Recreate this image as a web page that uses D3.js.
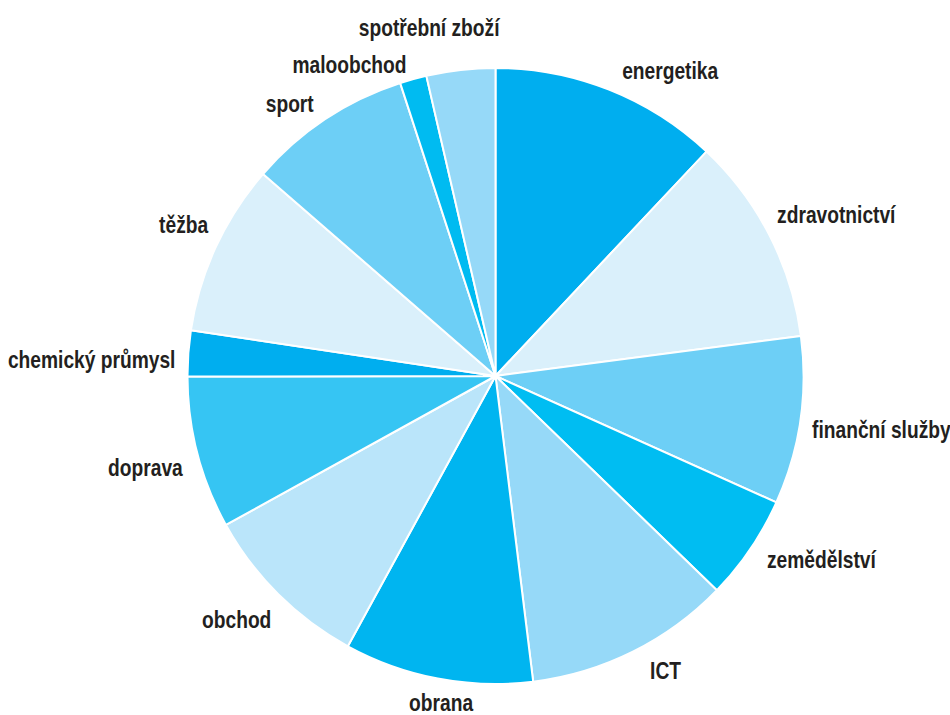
<!DOCTYPE html>
<html>
<head>
<meta charset="utf-8">
<script src="https://cdn.jsdelivr.net/npm/d3@7"></script>
<style>
  html, body { margin: 0; padding: 0; background: #ffffff; }
  svg { display: block; }
  .label { font-family: "Liberation Sans", Arial, sans-serif; font-weight: bold; font-size: 24px; fill: #231f20; }
</style>
</head>
<body>
<div id="chart"></div>
<script>
// Sectors, clockwise from 12 o'clock
const categories = [
  "energetika", "zdravotnictví", "finanční služby", "zemědělství", "ICT",
  "obrana", "obchod", "doprava", "chemický průmysl", "těžba",
  "sport", "maloobchod", "spotřební zboží"
];
// Share of each sector (%)
const shares = [12.0, 10.9, 8.8, 5.5, 10.8, 9.9, 9.0, 8.0, 2.4, 9.0, 8.6, 1.4, 3.6];
// Slice fills
const colors = [
  "#00aeef", "#daf0fb", "#6dcff6", "#00bdf2", "#96d9f8",
  "#00b5f0", "#bae5fa", "#36c5f3", "#00aeef", "#daf0fb",
  "#6dcff6", "#00bbf1", "#96d9f8"
];
// Label placement tweaks [dx, dy] relative to the slice's outer mid point
const labelNudge = [
  [8, -4], [-5, -12], [-2, 9], [5, 5], [11, 9],
  [6, 13], [3, 18], [-1, 13], [1, 10], [5, -14],
  [-4, -2], [-3, 1], [-30, -26]
];

const width = 950, height = 715;
const cx = 495.5, cy = 376, radius = 308, labelRadius = 322;
const squeeze = 0.8; // condensed lettering

const svg = d3.select("#chart").append("svg")
  .attr("width", width).attr("height", height);

const g = svg.append("g").attr("transform", `translate(${cx},${cy})`);

const pie = d3.pie().sort(null).value(d => d.value);
const arcs = pie(categories.map((c, i) => ({ name: c, value: shares[i], i })));

const arc = d3.arc().innerRadius(0).outerRadius(radius);

g.selectAll("path.slice")
  .data(arcs)
  .join("path")
  .attr("class", "slice")
  .attr("d", arc)
  .attr("fill", d => colors[d.data.i])
  .attr("stroke", "#ffffff")
  .attr("stroke-width", 2)
  .attr("stroke-linejoin", "round");

g.selectAll("text.label")
  .data(arcs)
  .join("text")
  .attr("class", "label")
  .each(function (d) {
    const a = (d.startAngle + d.endAngle) / 2;
    const s = Math.sin(a), c = Math.cos(a);
    const anchor = s > 0.3 ? "start" : (s < -0.2 ? "end" : "middle");
    const nd = labelNudge[d.data.i];
    const x = labelRadius * s + nd[0];
    const y = -labelRadius * c + 6 + nd[1];
    d3.select(this)
      .attr("text-anchor", anchor)
      .attr("transform", `translate(${x},${y}) scale(${squeeze},1)`);
  })
  .text(d => d.data.name);
</script>
</body>
</html>
